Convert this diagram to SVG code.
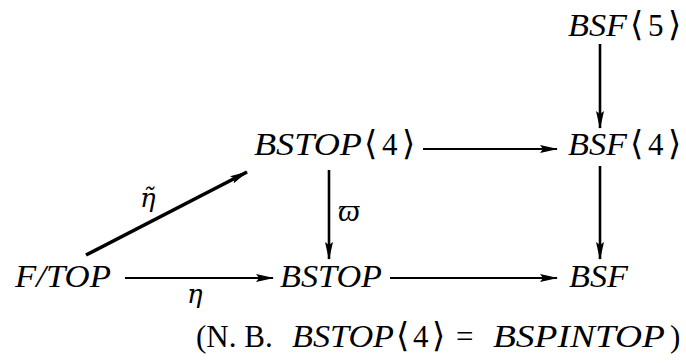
<svg xmlns="http://www.w3.org/2000/svg" width="686" height="363" viewBox="0 0 686 363">
<defs>
<style>
text{font-family:"Liberation Serif","DejaVu Serif",serif;font-size:31px;fill:#000}
.i{font-style:italic}
.b{font-size:34px}
.g{font-family:"DejaVu Serif",serif;font-style:italic;font-size:26px}
.c{stroke:#000;stroke-width:2.2;fill:none}
.v{stroke:#000;stroke-width:2.6;fill:none}
.d{stroke:#000;stroke-width:3.6;fill:none}
</style>
<marker id="ah" viewBox="0 0 18 8" refX="17" refY="4" markerWidth="18" markerHeight="8" markerUnits="userSpaceOnUse" orient="auto">
<path d="M0,0 L18,4 L0,8 L3,4 Z" fill="#000"/>
</marker>
</defs>
<rect width="686" height="363" fill="#fff"/>
<g id="n-bsf5"><text y="36"><tspan class="i" x="568" textLength="59" lengthAdjust="spacingAndGlyphs">BSF</tspan><tspan class="b" x="630">⟨</tspan><tspan x="648">5</tspan><tspan class="b" x="668">⟩</tspan></text></g>
<g id="n-bstop4"><text y="155"><tspan class="i" x="254" textLength="108" lengthAdjust="spacingAndGlyphs">BSTOP</tspan><tspan class="b" x="364">⟨</tspan><tspan x="382">4</tspan><tspan class="b" x="402">⟩</tspan></text></g>
<g id="n-bsf4"><text y="155"><tspan class="i" x="568" textLength="59" lengthAdjust="spacingAndGlyphs">BSF</tspan><tspan class="b" x="630">⟨</tspan><tspan x="648">4</tspan><tspan class="b" x="668">⟩</tspan></text></g>
<g id="n-ftop"><text x="15" y="287" class="i" textLength="96" lengthAdjust="spacingAndGlyphs">F/TOP</text></g>
<g id="n-bstop"><text x="280" y="287" class="i" textLength="102" lengthAdjust="spacingAndGlyphs">BSTOP</text></g>
<g id="n-bsf"><text x="569" y="287" class="i" textLength="59" lengthAdjust="spacingAndGlyphs">BSF</text></g>
<g id="connectors">
<line class="v" x1="600" y1="44" x2="600" y2="128" marker-end="url(#ah)"/>
<line class="c" x1="423" y1="149" x2="557" y2="149" marker-end="url(#ah)"/>
<line class="v" x1="600" y1="166" x2="600" y2="259" marker-end="url(#ah)"/>
<line class="v" x1="329" y1="170" x2="329" y2="259" marker-end="url(#ah)"/>
<line class="d" x1="86" y1="255" x2="247" y2="172" marker-end="url(#ah)"/>
<line class="c" x1="125" y1="278" x2="273" y2="278" marker-end="url(#ah)"/>
<line class="c" x1="390" y1="278" x2="557" y2="278" marker-end="url(#ah)"/>
<text x="338" y="221" class="i">ϖ</text>
<text x="140" y="207" class="g">η̃</text>
<text x="187" y="303" class="g">η</text>
</g>
<g id="note"><text y="347"><tspan x="196">(N. B.</tspan><tspan class="i" x="292" textLength="102" lengthAdjust="spacingAndGlyphs">BSTOP</tspan><tspan class="b" x="396">⟨</tspan><tspan x="413">4</tspan><tspan class="b" x="432">⟩</tspan><tspan x="456">=</tspan><tspan class="i" x="493" textLength="172" lengthAdjust="spacingAndGlyphs">BSPINTOP</tspan><tspan x="670">)</tspan></text></g>
</svg>
